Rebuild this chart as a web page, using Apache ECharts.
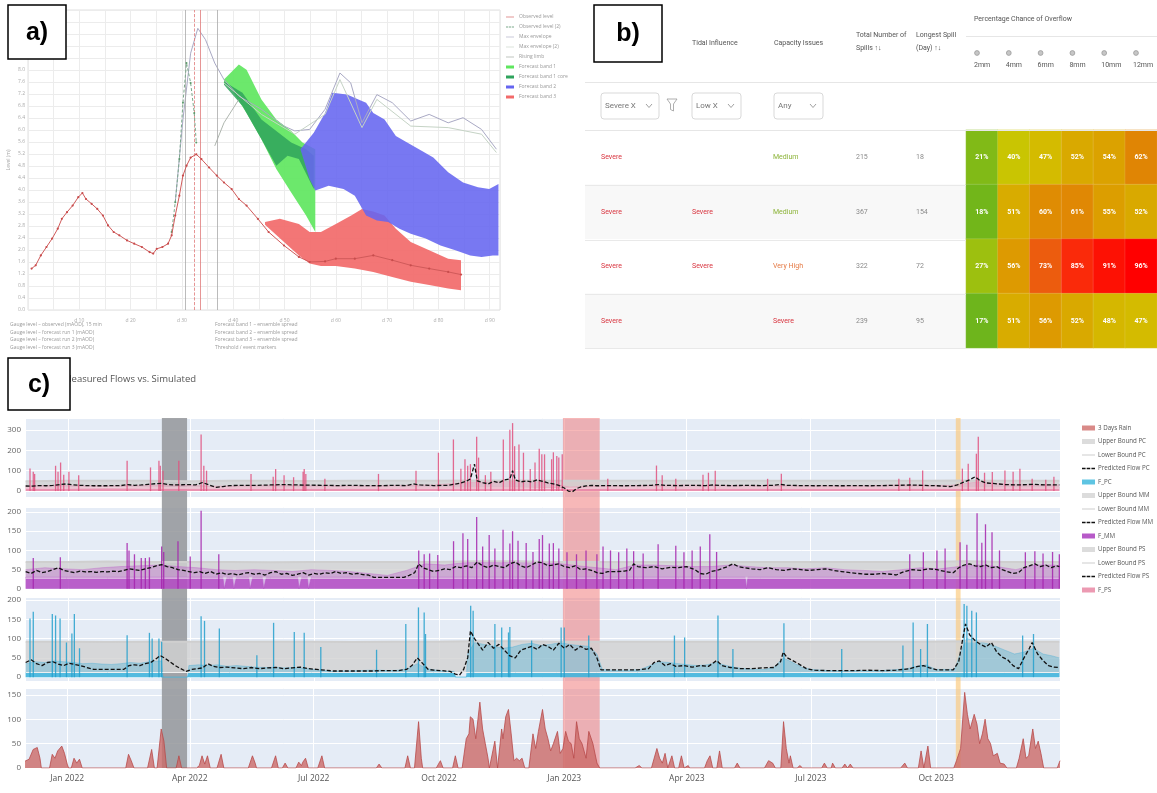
<!DOCTYPE html>
<html><head><meta charset="utf-8">
<script src="https://cdn.jsdelivr.net/npm/echarts@6/dist/echarts.min.js"></script>
<style>html,body{margin:0;padding:0;background:#fff}#c{width:1157px;height:793px}</style>
</head><body><div id="c"></div>
<script>
// ---------------- Panel a data (x: days, y: level units) ----------------
const aObsX = [0.7,1.5,2.5,3.6,4.7,5.8,6.6,7.6,8.7,9.8,10.6,11.3,12.4,13.5,14.6,15.6,16.7,17.8,19.3,20.7,22.2,23.7,24.4,25.1,26.2,27.3,28.0,28.7,29.5,30.2,30.9,31.7,32.8,33.8,35.3,36.8,38.2,39.7,41.1,42.6,44.8,46.9,49.9,52.8,54.9,57.9,60.0,63.7,67.3,71.0,74.6,78.2,81.9,84.4];
const aObsY = [13.8,14.9,18.2,21.0,23.8,27.1,30.4,32.6,34.8,37.6,39.0,37.0,35.4,33.7,31.5,28.2,26.0,24.9,23.2,22.1,21.0,19.3,18.8,20.4,21.0,22.1,24.9,31.5,38.1,44.8,48.1,50.8,51.9,50.3,47.5,44.8,42.5,40.3,37.0,34.8,30.4,26.0,21.5,17.7,16.0,16.2,17.1,17.1,18.2,16.6,14.9,13.8,12.7,11.8];
const aObs2X = [28.0,28.7,29.5,30.2,30.9,31.7,32.4,32.8];
const aObs2Y = [26.0,35.9,50.3,69.1,82.3,75.7,65.7,55.8];
const aEnvX = [28.7,30.2,31.7,33.1,34.6,36.4,38.2,41.1,45.5,49.9,52.0,54.9,57.9,60.8,62.9,65.1,68.0,71.0,74.6,78.2,81.9,84.8,88.4,91.3];
const aEnvY = [35.9,63.5,85.6,93.9,90.1,82.3,76.8,71.3,66.9,61.3,59.7,60.2,66.9,79.0,75.7,62.4,71.8,69.1,63.0,65.2,62.4,64.1,60.2,53.6];
const aEnv2X = [38.2,45.5,52.0,57.9,60.8,65.1,68.0,74.6,81.9,88.4,91.3];
const aEnv2Y = [75.7,65.2,58.6,65.2,76.8,60.8,70.2,61.3,60.8,58.6,52.5];
const aRiseX = [36.4,38.2,41.1];
const aRiseY = [54.7,62.4,70.2];
const greenUpX = [38.2,41.1,42.6,45.5,48.4,51.3,53.5,56.0];
const greenUpY = [76.8,81.8,80.1,70.2,63.5,59.7,55.8,53.6];
const greenLoX = [38.2,39.7,42.6,45.5,48.4,51.3,54.2,56.0];
const greenLoY = [75.7,73.5,65.7,56.9,47.0,39.2,31.5,26.0];
const dgreenUpX = [38.2,41.8,45.5,48.4,51.3,54.2,55.7];
const dgreenUpY = [76.2,72.4,63.5,59.7,55.8,53.6,51.4];
const dgreenLoX = [38.2,41.8,45.5,48.4,50.6,52.8,55.7];
const dgreenLoY = [75.1,68.0,56.9,48.1,51.4,50.3,40.3];
const blueUpX = [53.1,55.7,57.9,59.3,62.2,64.4,65.9,67.3,69.5,71.7,73.9,76.8,79.0,81.9,84.8,87.7,89.9,91.7];
const blueUpY = [53.6,59.1,65.7,72.4,71.8,70.2,69.1,65.7,63.5,58.0,55.8,53.0,50.8,45.9,42.5,40.9,40.3,42.0];
const blueLoX = [53.1,54.9,56.0,58.6,61.5,63.7,65.9,68.0,70.2,72.4,74.6,77.5,80.4,83.3,86.2,88.4,90.6,91.7];
const blueLoY = [53.6,43.6,39.8,41.4,40.3,38.1,31.5,29.8,29.3,27.1,25.4,23.8,21.5,19.9,18.2,17.7,18.2,18.2];
const redUpX = [46.2,49.1,52.8,54.9,57.1,60.0,63.0,65.1,67.3,69.5,71.7,74.6,78.2,81.9,84.4];
const redUpY = [29.3,30.4,28.7,26.0,26.0,28.7,31.5,33.7,32.8,31.5,27.1,22.7,19.9,17.1,16.6];
const redLoX = [46.2,49.9,52.8,54.9,57.1,60.0,63.7,67.3,71.0,74.6,78.2,81.9,84.4];
const redLoY = [28.4,22.7,18.2,15.5,14.7,14.7,13.8,12.7,11.0,9.4,8.3,7.2,6.6];
const aVLines = [30.6, 32.4, 33.5, 36.8];

// ---------------- Panel b data ----------------
const severity = ['Severe','Severe','Severe','Severe'];
const tidal = ['','Severe','Severe',''];
const capacity = ['Medium','Medium','Very High','Severe'];
const totalSpills = [215,367,322,239];
const longestSpill = [18,154,72,95];
const rainLevels = ['2mm','4mm','6mm','8mm','10mm','12mm'];
const overflowPct = [[21,40,47,52,54,62],[18,51,60,61,55,52],[27,56,73,85,91,96],[17,51,56,52,48,47]];

// ---------------- Panel c data (day offsets from 2021-12-01) ----------------
const shadeStart = [100.5, 395, 683.5];
const shadeEnd = [119, 422, 687];
const rain3d = [[0,14],[3,18],[6,38],[9,42],[11,20],[12,0],[18,0],[20,28],[22,20],[24,35],[27,45],[29,30],[31,8],[32,0],[34,0],[36,20],[38,10],[40,18],[42,0],[74,0],[76,28],[78,15],[80,0],[90,0],[93,38],[95,0],[97,0],[100,80],[102,55],[104,0],[111,0],[113,25],[115,0],[126,0],[128,5],[130,25],[132,8],[134,25],[136,0],[141,0],[144,28],[146,0],[164,0],[167,25],[169,10],[170,0],[181,0],[184,25],[186,0],[189,0],[191,10],[193,0],[199,0],[201,12],[203,5],[204,12],[206,20],[208,0],[215,0],[218,25],[220,0],[258,0],[260,8],[262,0],[279,0],[281,25],[283,0],[286,0],[289,95],[291,20],[292,0],[302,0],[305,15],[307,0],[314,0],[316,25],[318,0],[321,0],[324,60],[326,70],[327,105],[329,100],[331,60],[334,135],[336,80],[338,50],[340,20],[341,0],[342,0],[345,55],[347,0],[348,0],[350,80],[351,60],[353,105],[355,120],[357,70],[359,15],[361,20],[363,15],[365,20],[367,0],[370,0],[373,70],[375,40],[377,75],[380,120],[382,80],[384,60],[386,35],[388,50],[391,75],[393,30],[395,40],[397,75],[399,55],[401,50],[403,20],[405,95],[407,60],[409,50],[412,20],[414,75],[417,50],[420,10],[422,0],[448,0],[451,5],[453,0],[460,0],[462,20],[464,40],[466,20],[468,10],[470,30],[472,0],[473,0],[475,25],[477,0],[480,0],[482,25],[484,0],[487,5],[488,0],[499,0],[501,15],[503,25],[505,0],[508,0],[510,35],[512,0],[521,0],[523,10],[525,0],[543,0],[546,15],[549,10],[551,0],[555,0],[557,95],[559,40],[561,10],[562,25],[564,0],[567,0],[569,5],[571,0],[585,0],[587,10],[589,0],[592,0],[593,10],[595,0],[600,0],[602,8],[604,0],[606,8],[608,0],[643,0],[646,10],[648,0],[656,0],[658,35],[660,0],[661,0],[663,45],[665,0],[682,0],[684,15],[687,40],[690,155],[692,110],[694,80],[697,110],[699,90],[701,50],[703,70],[705,100],[707,60],[709,50],[711,25],[714,30],[716,10],[719,8],[721,0],[728,0],[730,20],[733,60],[735,20],[737,25],[740,80],[742,40],[744,55],[746,30],[748,0],[758,0],[760,15]];

const boundDays = [0,30,60,90,120,150,180,210,240,270,300,330,360,390,420,450,480,510,540,570,600,630,660,690,720,760];
const psUpper = [48,50,50,50,48,50,50,49,50,50,50,52,52,50,50,50,50,50,50,50,50,50,50,52,50,50];
const psLower = [15,15,16,15,15,15,15,15,15,15,15,15,15,14,15,15,15,15,15,15,15,15,15,15,15,15];
const mmUpper = [70,70,71,70,70,70,69,70,70,70,70,72,72,70,70,70,70,70,70,70,70,70,70,72,70,70];
const mmLower = [28,28,28,28,28,28,28,28,28,28,28,28,28,28,28,28,28,28,28,28,28,28,28,28,28,28];
const pcUpper = [92,92,91,92,92,92,92,92,91,92,92,93,93,92,92,92,92,92,92,92,92,92,92,93,92,92];
const pcLower = [12,12,12,12,12,12,12,12,12,12,12,12,12,12,12,12,12,12,12,12,12,12,12,12,12,12];

const psBase = [[0,16],[60,17],[120,16],[180,17],[240,16],[300,17],[360,18],[420,16],[480,17],[540,16],[600,17],[660,16],[720,18],[760,17]];
const psNoise = [[0,25],[20,28],[40,26],[60,25],[80,27],[100,30],[120,28],[140,24],[160,26],[180,28],[200,27],[220,26],[240,25],[260,26],[280,28],[300,30],[320,40],[340,45],[360,50],[380,45],[400,20],[420,25],[440,26],[460,28],[480,30],[500,28],[520,27],[540,26],[560,27],[580,26],[600,25],[620,26],[640,30],[660,28],[680,28],[700,45],[720,35],[740,30],[760,30]];
const psSpikes = [[3.2,111],[5.6,95],[6.6,84],[22,124],[23.8,95],[25.7,140],[28,80],[31.8,95],[39,78],[74.6,148],[91.8,116],[98,148],[99,124],[101,100],[112.6,148],[129,277],[131,124],[133,100],[165.7,84],[182,70],[183.8,108],[190,78],[197,68],[204,95],[204.8,108],[206,84],[220,60],[259.4,84],[287,100],[303.5,188],[314.5,253],[320,110],[323,156],[325,124],[327,132],[331.6,266],[333,164],[338,78],[342,95],[351.2,253],[356,301],[358,333],[359.5,220],[362.7,228],[366,188],[371,108],[374.5,140],[377.6,207],[379.5,180],[381.5,180],[386.7,156],[388,190],[390.5,172],[392,165],[394.5,180],[428,60],[463.8,125],[468,77],[478,60],[498,80],[502,90],[507,100],[545.5,60],[555.6,85],[642,60],[650,65],[659.5,101],[688.7,110],[693,134],[699,183],[700.4,266],[705,90],[710.7,93],[720,101],[726,95],[731,110],[740,60],[750,55],[756,70]];
const psPred = [[0,25],[5,24],[10,27],[15,26],[20,28],[25,32],[30,35],[35,30],[40,28],[45,27],[50,26],[55,26],[60,26],[65,27],[70,27],[75,32],[80,28],[85,30],[90,33],[95,36],[100,38],[105,32],[110,30],[115,31],[120,32],[125,30],[130,42],[135,30],[140,18],[145,22],[150,27],[160,28],[170,28],[180,30],[190,32],[200,30],[210,29],[220,28],[230,27],[240,28],[250,27],[260,26],[270,28],[280,27],[285,35],[290,30],[300,27],[310,28],[315,33],[320,40],[324,48],[327,60],[330,132],[332,50],[336,42],[340,35],[344,48],[348,40],[352,55],[356,60],[358,100],[360,55],[364,45],[368,50],[372,45],[376,55],[380,48],[384,40],[388,35],[392,28],[396,15],[399,0],[402,-3],[405,12],[408,20],[412,25],[416,28],[420,26],[430,27],[440,26],[450,27],[460,28],[465,32],[470,28],[480,27],[490,28],[500,27],[505,30],[510,28],[520,27],[530,28],[540,27],[550,28],[555,33],[560,28],[570,27],[580,26],[590,27],[600,26],[610,27],[620,26],[630,27],[640,28],[650,30],[660,28],[670,26],[680,22],[685,30],[690,45],[694,55],[698,70],[702,50],[706,40],[710,38],[715,35],[720,32],[730,30],[740,33],[750,30],[760,30]];

const mmBase = [[0,30],[30,30],[60,30],[90,30],[120,30],[145,30],[146,0],[148,30],[152,30],[153,0],[155,30],[164,30],[165,0],[167,30],[174,30],[175,0],[177,30],[200,30],[201,0],[203,30],[207,30],[208,0],[210,30],[240,30],[300,30],[400,30],[500,30],[529,30],[530,0],[531,30],[600,30],[700,30],[760,30]];
const mmNoise = [[0,50],[14,55],[28,52],[42,50],[56,55],[70,58],[84,60],[98,62],[112,58],[126,55],[140,50],[154,48],[168,50],[182,48],[196,45],[210,50],[224,48],[238,45],[252,40],[266,35],[280,48],[294,65],[308,62],[322,68],[336,70],[350,68],[364,72],[378,70],[392,66],[406,60],[420,55],[434,50],[448,62],[462,62],[476,60],[490,58],[504,58],[518,62],[532,58],[546,55],[560,55],[574,52],[588,55],[602,50],[616,48],[630,45],[644,50],[658,55],[672,52],[686,58],[700,62],[714,58],[728,50],[742,62],[756,62],[760,60]];
const mmSpikes = [[5.6,80],[25.5,82],[74.6,119],[76,100],[80,90],[85,80],[88,80],[91,82],[100,110],[101.5,96],[112,124],[121,84],[129,203],[142,90],[289,100],[293,90],[297,92],[303,88],[314.6,124],[321.5,145],[325,130],[331.6,187],[336,110],[340.8,140],[345,105],[351,154],[356,118],[358,150],[362,125],[368,119],[373,96],[377.6,130],[380,140],[385,118],[388,119],[392,105],[398,95],[405,90],[412,100],[420,90],[424.5,110],[430,100],[436,95],[442,105],[447,98],[454,92],[465,116],[478,112],[484,95],[490,100],[496,110],[503,142],[508,96],[650,90],[660,95],[670,100],[676,105],[687,121],[692,115],[699.5,197],[703,120],[705.7,168],[710.5,147],[716,100],[735,95],[742,98],[748,92],[755,96],[760,90]];
const mmPred = [[0,45],[4,40],[8,48],[12,42],[16,45],[20,50],[24,55],[28,48],[32,45],[36,42],[40,46],[44,44],[48,45],[52,43],[56,45],[60,44],[64,46],[68,45],[72,48],[76,52],[80,50],[84,48],[88,52],[92,55],[96,60],[100,63],[104,58],[108,55],[112,50],[116,48],[120,45],[124,42],[128,45],[132,40],[136,45],[140,38],[144,42],[148,37],[152,40],[156,36],[160,40],[164,42],[168,38],[172,40],[176,36],[180,42],[184,45],[188,38],[192,40],[196,35],[200,38],[204,42],[208,36],[212,40],[216,38],[220,42],[224,40],[228,45],[232,40],[236,42],[240,38],[244,40],[248,37],[252,36],[256,30],[260,30],[266,30],[272,30],[278,30],[282,35],[286,42],[289,65],[292,55],[296,50],[300,45],[304,48],[308,52],[312,50],[316,58],[320,55],[324,60],[328,55],[332,70],[336,60],[340,55],[344,62],[348,58],[352,55],[356,65],[360,70],[364,60],[368,55],[372,62],[376,70],[380,68],[384,60],[388,62],[392,65],[396,58],[400,55],[404,60],[408,50],[412,52],[416,48],[420,42],[424,40],[428,45],[434,45],[440,46],[444,48],[447,65],[450,58],[456,55],[462,58],[468,52],[474,56],[480,55],[486,58],[492,50],[496,40],[500,38],[504,45],[510,50],[516,58],[520,65],[524,58],[528,55],[534,52],[540,50],[546,55],[552,50],[558,48],[564,52],[570,50],[576,48],[582,50],[588,52],[594,48],[600,45],[606,42],[612,40],[618,38],[624,38],[630,40],[636,38],[640,36],[646,45],[652,50],[658,48],[664,52],[670,50],[676,45],[682,42],[686,55],[690,62],[694,65],[698,60],[702,58],[706,62],[710,55],[714,58],[718,50],[722,45],[726,40],[730,42],[734,55],[738,60],[742,65],[746,58],[750,62],[754,55],[758,60],[760,58]];

const pcBase = [[0,12],[100,12],[101,0],[119,0],[120,12],[315,12],[316,0],[324,0],[325,12],[760,12]];
const pcNoise = [[0,35],[7,40],[14,38],[21,42],[28,40],[35,38],[42,35],[49,36],[56,34],[63,33],[70,35],[77,38],[84,36],[91,40],[98,42],[100,42],[101,0],[119,0],[120,30],[127,32],[134,30],[141,32],[148,28],[155,30],[162,28],[169,26],[176,25],[183,26],[190,24],[197,25],[204,24],[211,20],[218,18],[225,15],[232,16],[239,16],[246,17],[253,18],[260,18],[267,17],[274,18],[281,22],[288,35],[295,22],[302,18],[309,15],[315,15],[316,0],[324,0],[325,60],[330,90],[337,85],[344,80],[351,75],[358,78],[365,85],[372,88],[379,82],[386,85],[393,90],[400,85],[407,82],[414,80],[420,60],[424,20],[431,18],[438,18],[445,18],[452,20],[459,30],[466,40],[473,38],[480,35],[487,32],[494,30],[501,32],[508,38],[515,30],[522,25],[529,22],[536,20],[543,20],[550,25],[557,50],[564,38],[571,25],[578,20],[585,18],[592,17],[599,16],[606,16],[613,17],[620,16],[627,17],[634,18],[641,20],[648,22],[655,28],[662,32],[669,20],[676,20],[683,20],[688,70],[692,100],[699,95],[706,88],[713,80],[720,70],[727,60],[734,65],[741,75],[748,60],[755,55],[760,50]];
const pcSpikes = [[3.2,152],[5.6,170],[19.6,164],[22,160],[25.3,152],[30,90],[34,113],[35.8,164],[39.6,75],[74.6,109],[91,115],[93,100],[98,100],[100,92],[129,158],[131.5,146],[142.4,126],[170,57],[182.3,141],[197.5,117],[204.8,115],[217,78],[258,71],[279.5,138],[288.8,181],[293,168],[294,112],[327.2,185],[329,172],[345,138],[350,129],[355,116],[356,130],[372,95],[393.7,129],[396,129],[414,108],[477,108],[484.5,103],[509,160],[520,73],[557.5,140],[600,73],[645,82],[652.5,142],[658,73],[663,138],[690,190],[692,185],[695.6,172],[699,168],[733,108],[741,112]];
const pcPred = [[0,38],[4,45],[8,35],[12,30],[16,38],[20,40],[24,34],[28,30],[32,36],[36,33],[40,30],[45,25],[50,20],[55,20],[60,20],[66,20],[72,20],[76,30],[80,32],[84,30],[88,35],[92,38],[96,48],[99,56],[102,50],[106,40],[110,30],[114,22],[118,15],[122,20],[126,22],[130,24],[134,35],[138,28],[142,25],[148,26],[154,24],[160,22],[166,25],[172,22],[178,24],[184,25],[190,22],[196,24],[202,26],[208,22],[214,20],[220,18],[226,16],[232,16],[238,16],[244,16],[250,16],[256,16],[262,17],[268,17],[274,17],[280,20],[284,30],[288,50],[292,35],[296,20],[300,18],[306,17],[312,15],[316,8],[319,5],[322,20],[325,50],[327,120],[330,100],[333,85],[336,70],[340,90],[344,75],[348,85],[352,70],[356,55],[360,50],[364,70],[368,75],[372,80],[376,72],[380,85],[384,80],[388,70],[392,88],[396,75],[400,85],[404,70],[408,80],[412,72],[416,75],[420,50],[423,19],[430,19],[440,19],[450,19],[458,22],[462,38],[466,42],[470,30],[474,35],[478,28],[484,30],[490,26],[496,30],[502,28],[508,43],[512,30],[518,25],[526,22],[534,22],[542,24],[550,25],[555,40],[557,65],[560,50],[564,43],[568,35],[574,22],[580,18],[590,17],[600,17],[610,17],[620,18],[630,17],[640,18],[650,22],[656,28],[660,30],[664,25],[670,19],[676,19],[682,19],[686,40],[689,100],[691,138],[694,110],[698,95],[702,85],[706,78],[710,90],[714,65],[718,52],[722,45],[726,30],[730,22],[734,50],[738,75],[740,90],[744,60],[748,43],[752,30],[756,26],[760,25]];

// ---------------- build ----------------
const DAY = 86400000, T0 = Date.UTC(2021, 11, 1);
const ts = d => T0 + Math.round(d * DAY);
const P = arr => arr.map(p => [ts(p[0]), p[1]]);
const B = (days, vals) => days.map((d, i) => [ts(d), vals[i]]);
const zip = (xs, ys) => xs.map((x, i) => [x, ys[i]]);
const ident = v => v;

function polygonSeries(name, axis, xs1, ys1, xs2, ys2, color, opacity, z, tx) {
  return {
    type: 'custom', name: name, xAxisIndex: axis, yAxisIndex: axis, z: z, silent: true,
    itemStyle: { color: color },
    data: [[tx(xs1[0]), ys1[0]]],
    renderItem: function (params, api) {
      const pts = [];
      for (let i = 0; i < xs1.length; i++) pts.push(api.coord([tx(xs1[i]), ys1[i]]));
      for (let i = xs2.length - 1; i >= 0; i--) pts.push(api.coord([tx(xs2[i]), ys2[i]]));
      return { type: 'polygon', shape: { points: pts }, style: { fill: color, opacity: opacity } };
    }
  };
}

const series = [];
const heatData = [];
overflowPct.forEach((row, r) => row.forEach((v, c) => heatData.push([c, r, v])));
series.push({
  type: 'heatmap', xAxisIndex: 1, yAxisIndex: 1, data: heatData, silent: true,
  itemStyle: { borderColor: 'rgba(255,255,255,0.25)', borderWidth: 0.5 },
  label: { show: true, formatter: p => p.value[2] + '%', color: '#fff', fontSize: 7, fontWeight: 'bold', fontFamily: 'Roboto' }
});

// panel a
series.push(polygonSeries('Forecast band 1', 0, greenUpX, greenUpY, greenLoX, greenLoY, '#5fe65f', 0.92, 2, ident));
series.push(polygonSeries('Forecast band 1 core', 0, dgreenUpX, dgreenUpY, dgreenLoX, dgreenLoY, '#2fa35c', 0.85, 3, ident));
series.push(polygonSeries('Forecast band 3', 0, redUpX, redUpY, redLoX, redLoY, '#f26a6a', 0.92, 2, ident));
series.push(polygonSeries('Forecast band 2', 0, blueUpX, blueUpY, blueLoX, blueLoY, '#6565f0', 0.88, 3, ident));
series.push({ type: 'line', name: 'Max envelope', xAxisIndex: 0, yAxisIndex: 0, data: zip(aEnvX, aEnvY), symbol: 'none', z: 4,
  lineStyle: { color: '#a9a9c4', width: 1 }, itemStyle: { color: '#a9a9c4' } });
series.push({ type: 'line', name: 'Max envelope (2)', xAxisIndex: 0, yAxisIndex: 0, data: zip(aEnv2X, aEnv2Y), symbol: 'none', z: 4,
  lineStyle: { color: '#c5d3c5', width: 1 }, itemStyle: { color: '#c5d3c5' } });
series.push({ type: 'line', name: 'Rising limb', xAxisIndex: 0, yAxisIndex: 0, data: zip(aRiseX, aRiseY), symbol: 'none', z: 4,
  lineStyle: { color: '#9aa39a', width: 0.8 }, itemStyle: { color: '#9aa39a' } });
series.push({ type: 'line', name: 'Observed level (2)', xAxisIndex: 0, yAxisIndex: 0, data: zip(aObs2X, aObs2Y), z: 5,
  symbol: 'circle', symbolSize: 2, itemStyle: { color: '#5a9a6a' }, lineStyle: { color: '#7aa88a', width: 1, type: [3, 2] } });
series.push({ type: 'line', name: 'Observed level', xAxisIndex: 0, yAxisIndex: 0, data: zip(aObsX, aObsY), z: 6,
  symbol: 'circle', symbolSize: 2.2, itemStyle: { color: '#c84c4c' }, lineStyle: { color: '#d05a5a', width: 1 },
  markLine: { silent: true, symbol: 'none', label: { show: false },
    data: aVLines.map((v, i) => ({ xAxis: v, lineStyle: { color: i === 1 || i === 2 ? '#e07a7a' : '#aaaaaa', width: 0.8, type: i === 1 ? 'dashed' : 'solid' } })) } });

// panel c sub-plots
const SUBS = [
  { key: 'PS', g: 2, upper: psUpper, lower: psLower, base: psBase, noise: psNoise, spikes: psSpikes, pred: psPred,
    baseColor: '#e98aa8', noiseColor: '#ee86ab', spikeColor: '#e0527f' },
  { key: 'MM', g: 3, upper: mmUpper, lower: mmLower, base: mmBase, noise: mmNoise, spikes: mmSpikes, pred: mmPred,
    baseColor: '#b556c6', noiseColor: '#b441c2', spikeColor: '#a424ad' },
  { key: 'PC', g: 4, upper: pcUpper, lower: pcLower, base: pcBase, noise: pcNoise, spikes: pcSpikes, pred: pcPred,
    baseColor: '#4fbce0', noiseColor: '#27a6d4', spikeColor: '#25a0cd' }
];
SUBS.forEach(s => {
  series.push(polygonSeries(null, s.g, boundDays, s.upper, boundDays, s.lower, '#d2d2d2', 0.8, 2, ts));
  series.push({ type: 'line', name: 'F_' + s.key, xAxisIndex: s.g, yAxisIndex: s.g, data: P(s.base), symbol: 'none', z: 3,
    lineStyle: { color: s.baseColor, width: 0.6 }, areaStyle: { color: s.baseColor, opacity: 0.85 }, itemStyle: { color: s.baseColor } });
  series.push({ type: 'line', name: 'F_' + s.key, xAxisIndex: s.g, yAxisIndex: s.g, data: P(s.noise), symbol: 'none', z: 3,
    lineStyle: { color: s.noiseColor, width: 0.5, opacity: 0.6 }, areaStyle: { color: s.noiseColor, opacity: 0.3 }, itemStyle: { color: s.baseColor } });
  series.push({ type: 'line', name: 'Upper Bound ' + s.key, xAxisIndex: s.g, yAxisIndex: s.g, data: B(boundDays, s.upper), symbol: 'none', z: 3,
    lineStyle: { color: '#cfcfcf', width: 2 }, itemStyle: { color: '#d6d6d6' } });
  series.push({ type: 'line', name: 'Lower Bound ' + s.key, xAxisIndex: s.g, yAxisIndex: s.g, data: B(boundDays, s.lower), symbol: 'none', z: 3,
    lineStyle: { color: '#f0f0f0', width: 1 }, itemStyle: { color: '#cccccc' } });
  series.push({ type: 'bar', name: 'F_' + s.key, xAxisIndex: s.g, yAxisIndex: s.g, data: P(s.spikes), barWidth: 1.3, z: 4,
    itemStyle: { color: s.spikeColor, opacity: 0.85 } });
  series.push({ type: 'line', name: 'Predicted Flow ' + s.key, xAxisIndex: s.g, yAxisIndex: s.g, data: P(s.pred), symbol: 'none', z: 5,
    lineStyle: { color: '#111', width: 1.3, type: [4, 2] }, itemStyle: { color: '#111' } });
});
series.push({ type: 'line', name: '3 Days Rain', xAxisIndex: 5, yAxisIndex: 5, data: P(rain3d), symbol: 'none', z: 3,
  lineStyle: { color: '#b84a4a', width: 0.8 }, areaStyle: { color: '#cc6a68', opacity: 0.8 }, itemStyle: { color: '#d98a88' } });
const shadeColors = ['rgba(148,150,154,0.85)', 'rgba(240,118,118,0.52)', 'rgba(250,200,120,0.65)'];
series.push({ type: 'line', xAxisIndex: 6, yAxisIndex: 6, data: [[ts(0), 0], [ts(760), 0]], symbol: 'none', z: 1, silent: true,
  lineStyle: { width: 0, opacity: 0 },
  markArea: { silent: true, data: shadeStart.map((d, i) => [{ xAxis: ts(d), itemStyle: { color: shadeColors[i] } }, { xAxis: ts(shadeEnd[i]) }]) } });

// axes
const timeAxis = (g, showLabel) => ({
  type: 'time', gridIndex: g, min: ts(0), max: ts(760), splitNumber: 8, show: g !== 6,
  axisLine: { show: false }, axisTick: { show: false },
  axisLabel: { show: showLabel, formatter: '{MMM} {yyyy}', fontSize: 8.5, color: '#555', fontFamily: 'Open Sans', margin: 6 },
  splitLine: { show: true, lineStyle: { color: '#ffffff', width: 1 } }, minorSplitLine: { show: false }
});
const valAxis = (g, min, max, step) => ({
  type: 'value', gridIndex: g, min: min, max: max, splitNumber: 4,
  axisLine: { show: false }, axisTick: { show: false },
  axisLabel: { fontSize: 8, color: '#666', fontFamily: 'Open Sans', margin: 4, formatter: v => (Math.abs(v % step) < 1e-6 ? String(v) : '') },
  splitLine: { show: true, lineStyle: { color: '#ffffff', width: 1 } }
});

const xAxis = [
  { type: 'value', gridIndex: 0, min: 0, max: 92, interval: 5, axisLine: { show: false }, axisTick: { show: false },
    axisLabel: { fontSize: 5, color: '#aaa', formatter: v => (v % 10 === 0 && v > 0 && v < 92 ? 'd ' + v : '') },
    splitLine: { lineStyle: { color: '#ececec' } } },
  { type: 'category', gridIndex: 1, data: rainLevels, show: false },
  timeAxis(2, false), timeAxis(3, false), timeAxis(4, false), timeAxis(5, true), timeAxis(6, false)
];
const yAxis = [
  { type: 'value', gridIndex: 0, min: 0, max: 100, interval: 4, axisLine: { show: false }, axisTick: { show: false },
    axisLabel: { fontSize: 5, color: '#aaa', margin: 3, formatter: v => (v / 10).toFixed(1) },
    splitLine: { lineStyle: { color: '#ececec' } },
    name: 'Level (m)', nameLocation: 'middle', nameGap: 16, nameTextStyle: { fontSize: 5, color: '#aaa' } },
  { type: 'category', gridIndex: 1, data: severity.map((s, i) => 'r' + i), inverse: true, show: false },
  valAxis(2, -29, 358, 100), valAxis(3, -3, 213, 50), valAxis(4, -10, 208, 50), valAxis(5, 0, 164, 50),
  { type: 'value', gridIndex: 6, min: 0, max: 1, show: false }
];

const subGrid = (top, h) => ({ left: 25, top: top, width: 1035, height: h, show: true, backgroundColor: '#e5ecf6', borderWidth: 0, outerBoundsMode: 'none' });
const grid = [
  { left: 28, top: 10, width: 472, height: 300, show: true, backgroundColor: '#fff', borderColor: '#e0e0e0', borderWidth: 1, outerBoundsMode: 'none' },
  { left: 966, top: 130, width: 191, height: 218, outerBoundsMode: 'none' },
  subGrid(418, 79), subGrid(507, 83), subGrid(597, 84), subGrid(688, 80),
  { left: 25, top: 418, width: 1035, height: 350, show: false, outerBoundsMode: 'none' }
];

// legends
const ICON_LINE = 'path://M0,4h20v1.6h-20z';
const ICON_DASH = 'path://M0,4h5.5v2h-5.5z M7.2,4h5.5v2h-5.5z M14.5,4h5.5v2h-5.5z';
const legCData = [{ name: '3 Days Rain', icon: 'rect', itemStyle: { color: '#d98a88' } }];
const fCol = { PC: '#5ec4e2', MM: '#b75ac8', PS: '#ec9ab2' };
['PC', 'MM', 'PS'].forEach(k => {
  legCData.push({ name: 'Upper Bound ' + k, icon: 'rect', itemStyle: { color: '#dcdcdc' } });
  legCData.push({ name: 'Lower Bound ' + k, icon: ICON_LINE, itemStyle: { color: '#cfcfcf' } });
  legCData.push({ name: 'Predicted Flow ' + k, icon: ICON_DASH, itemStyle: { color: '#111' } });
  legCData.push({ name: 'F_' + k, icon: 'rect', itemStyle: { color: fCol[k] } });
});
const legAData = [
  { name: 'Observed level', icon: ICON_LINE, itemStyle: { color: '#d05a5a' } }, { name: 'Observed level (2)', icon: ICON_DASH, itemStyle: { color: '#7aa88a' } },
  { name: 'Max envelope', icon: ICON_LINE, itemStyle: { color: '#a9a9c4' } }, { name: 'Max envelope (2)', icon: ICON_LINE, itemStyle: { color: '#c5d3c5' } },
  { name: 'Rising limb', icon: ICON_LINE, itemStyle: { color: '#9aa39a' } },
  { name: 'Forecast band 1', icon: 'rect', itemStyle: { color: '#5fe65f' } }, { name: 'Forecast band 1 core', icon: 'rect', itemStyle: { color: '#2fa35c' } },
  { name: 'Forecast band 2', icon: 'rect', itemStyle: { color: '#6565f0' } }, { name: 'Forecast band 3', icon: 'rect', itemStyle: { color: '#f26a6a' } }
];

// graphics (table b, labels, titles)
const G = [];
const T = (text, x, y, font, fill, extra) => G.push(Object.assign({ type: 'text', silent: true, z: 50,
  style: { text: text, x: x, y: y, font: font, fill: fill, textVerticalAlign: 'middle' } }, extra || {}));
const L = (x1, y1, x2, y2, c) => G.push({ type: 'line', silent: true, z: 40, shape: { x1: x1, y1: y1, x2: x2, y2: y2 }, style: { stroke: c, lineWidth: 1 } });
[1, 3].forEach(r => G.push({ type: 'rect', silent: true, z: -5, shape: { x: 585, y: 130 + r * 54.5, width: 572, height: 54.5 }, style: { fill: '#f8f8f8' } }));
L(585, 82.5, 1157, 82.5, '#e6e6e6'); L(585, 130.5, 1157, 130.5, '#e6e6e6');
[185, 240, 294, 348].forEach(y => L(585, y + 0.5, 966, y + 0.5, '#e9e9e9'));
L(966, 36.5, 1157, 36.5, '#e6e6e6');
const hf = '7px Roboto', hc = '#555';
T('Tidal Influence', 692, 43, hf, hc); T('Capacity Issues', 774, 43, hf, hc);
T('Total Number of', 856, 35, hf, hc); T('Spills ↑↓', 856, 48, hf, hc);
T('Longest Spill', 916, 35, hf, hc); T('(Day) ↑↓', 916, 48, hf, hc);
T('Percentage Chance of Overflow', 974, 19, hf, hc);
rainLevels.forEach((lv, i) => {
  const x = 966 + i * 31.8;
  G.push({ type: 'circle', silent: true, z: 40, shape: { cx: x + 11, cy: 53, r: 2.4 }, style: { fill: '#c6c6c6', stroke: '#9a9a9a', lineWidth: 0.8 } });
  T(lv, x + 8, 65, hf, hc);
});
const box = (x, w, label) => {
  G.push({ type: 'rect', silent: true, z: 40, shape: { x: x, y: 93, width: w, height: 26, r: 3 }, style: { fill: '#fff', stroke: '#d9d9d9', lineWidth: 1 } });
  T(label, x + 4, 106, '8px Roboto', '#777');
  const cx = x + w - 13;
  G.push({ type: 'polyline', silent: true, z: 41, shape: { points: [[cx, 104], [cx + 3, 107.5], [cx + 6, 104]] }, style: { stroke: '#888', lineWidth: 0.8, fill: null } });
};
box(601, 58, 'Severe X'); box(692, 49, 'Low X'); box(774, 49, 'Any');
G.push({ type: 'polygon', silent: true, z: 40, shape: { points: [[667, 99], [677, 99], [673.5, 104], [673.5, 111], [670.5, 109.5], [670.5, 104]] }, style: { fill: null, stroke: '#9a9a9a', lineWidth: 0.8 } });
const lvlColor = { 'Severe': '#d8333e', 'Medium': '#8db43a', 'Very High': '#e57a45' };
severity.forEach((s, r) => {
  const y = 157.5 + r * 54.5;
  T(s, 601, y, hf, lvlColor[s]);
  if (tidal[r]) T(tidal[r], 692, y, hf, lvlColor[tidal[r]]);
  T(capacity[r], 773, y, hf, lvlColor[capacity[r]]);
  T(String(totalSpills[r]), 856, y, hf, '#8a8a8a');
  T(String(longestSpill[r]), 916, y, hf, '#8a8a8a');
});
const capA = ['Gauge level – observed (mAOD), 15 min', 'Gauge level – forecast run 1 (mAOD)', 'Gauge level – forecast run 2 (mAOD)', 'Gauge level – forecast run 3 (mAOD)'];
const capB = ['Forecast band 1 – ensemble spread', 'Forecast band 2 – ensemble spread', 'Forecast band 3 – ensemble spread', 'Threshold / event markers'];
capA.forEach((t, i) => T(t, 10, 325 + i * 7.5, '5px Open Sans', '#9a9a9a'));
capB.forEach((t, i) => T(t, 215, 325 + i * 7.5, '5px Open Sans', '#9a9a9a'));
T('Measured Flows vs. Simulated', 63, 379, '9.5px Open Sans', '#555');
const lab = (x, y, w, h, t) => {
  G.push({ type: 'rect', silent: true, z: 100, shape: { x: x, y: y, width: w, height: h }, style: { fill: '#fff', stroke: '#000', lineWidth: 1.5 } });
  G.push({ type: 'text', silent: true, z: 101, style: { text: t, x: x + w / 2, y: y + h / 2 + 1, font: 'bold 25px Liberation Sans', fill: '#000', textAlign: 'center', textVerticalAlign: 'middle' } });
};
lab(8, 5, 58, 54, 'a)'); lab(594, 5, 68, 57, 'b)'); lab(8, 358, 62, 52, 'c)');

const option = {
  animation: false,
  useUTC: true,
  backgroundColor: '#fff',
  textStyle: { fontFamily: 'Open Sans' },
  grid: grid, xAxis: xAxis, yAxis: yAxis,
  visualMap: { type: 'continuous', seriesIndex: 0, min: 15, max: 95, show: false, dimension: 2,
    inRange: { color: ['#64b31e', '#94be12', '#c0c804', '#d2c200', '#dc9e00', '#e27a06', '#ee5410', '#fa2a0a', '#ff0000'] } },
  legend: [
    { data: legCData, orient: 'vertical', left: 1082, top: 423, padding: 0, itemWidth: 13, itemHeight: 5, itemGap: 3.5, selectedMode: false,
      textStyle: { fontSize: 6.2, color: '#555', fontFamily: 'Open Sans', lineHeight: 10, padding: [0, 0, 0, -2] } },
    { data: legAData, orient: 'vertical', left: 506, top: 14, padding: 0, itemWidth: 8, itemHeight: 3, itemGap: 4, selectedMode: false,
      textStyle: { fontSize: 5, color: '#999', lineHeight: 6 } }
  ],
  graphic: { elements: G },
  series: series
};
const chart = echarts.init(document.getElementById('c'), null, { renderer: 'canvas', width: 1157, height: 793 });
chart.setOption(option);
</script></body></html>
